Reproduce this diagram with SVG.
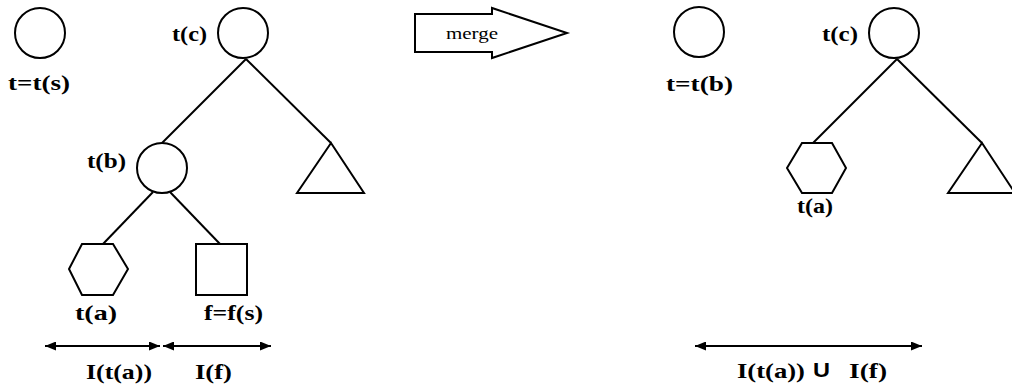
<svg xmlns="http://www.w3.org/2000/svg" width="1012" height="389" viewBox="0 0 1012 389">
<style>
.s{fill:#fff;stroke:#000;stroke-width:2}
.ln{stroke:#000;stroke-width:2;fill:none}
.lb{font-family:'Liberation Serif','Tinos','Times New Roman','Times','DejaVu Serif','Noto Serif',serif;font-weight:700;font-size:22px;fill:#000}
.mg{font-family:'Liberation Serif','Tinos','Times New Roman','Times','DejaVu Serif','Noto Serif',serif;font-size:17px;fill:#000}
.u{font-family:'Liberation Sans','DejaVu Sans',sans-serif;font-weight:700;font-size:20px;fill:#000}
</style>
<defs>
<marker id="ah" viewBox="0 0 11 9" refX="11" refY="4.5" markerWidth="11" markerHeight="9" markerUnits="userSpaceOnUse" orient="auto-start-reverse">
<path d="M0,0 L11,4.5 L0,9 z" fill="#000"/>
</marker>
</defs>
<rect width="1012" height="389" fill="#fff"/>
<g id="connectors">
<line class="ln" x1="246" y1="59" x2="162" y2="143"/>
<line class="ln" x1="246" y1="59" x2="331" y2="143"/>
<line class="ln" x1="153" y1="192" x2="103" y2="244"/>
<line class="ln" x1="170" y1="192" x2="220" y2="244"/>
<line class="ln" x1="897" y1="59" x2="813" y2="143"/>
<line class="ln" x1="897" y1="59" x2="982" y2="143"/>
<line class="ln" x1="45" y1="346" x2="160" y2="346" marker-start="url(#ah)" marker-end="url(#ah)"/>
<line class="ln" x1="163" y1="346" x2="271" y2="346" marker-start="url(#ah)" marker-end="url(#ah)"/>
<line class="ln" x1="695" y1="346" x2="922" y2="346" marker-start="url(#ah)" marker-end="url(#ah)"/>
</g>
<g id="ts">
<circle class="s" cx="40" cy="33" r="25"/>
<text class="lb" x="8" y="90" textLength="62" lengthAdjust="spacingAndGlyphs">t=t(s)</text>
</g>
<g id="tc">
<circle class="s" cx="243" cy="33" r="25"/>
<text class="lb" x="172" y="41" textLength="35" lengthAdjust="spacingAndGlyphs">t(c)</text>
</g>
<g id="tb">
<circle class="s" cx="162" cy="168" r="25"/>
<text class="lb" x="87" y="168" textLength="39" lengthAdjust="spacingAndGlyphs">t(b)</text>
</g>
<g id="tri1">
<polygon class="s" points="331,143 297,193 364,193"/>
</g>
<g id="ta">
<polygon class="s" points="82,244 113,244 128,269 113,295 82,295 69,269"/>
<text class="lb" x="75" y="320" textLength="42" lengthAdjust="spacingAndGlyphs">t(a)</text>
</g>
<g id="f">
<rect class="s" x="196" y="244" width="51" height="51"/>
<text class="lb" x="204" y="320" textLength="59" lengthAdjust="spacingAndGlyphs">f=f(s)</text>
</g>
<g id="intervals1">
<text class="lb" x="86" y="379" textLength="66" lengthAdjust="spacingAndGlyphs">I(t(a))</text>
<text class="lb" x="195" y="379" textLength="37" lengthAdjust="spacingAndGlyphs">I(f)</text>
</g>
<g id="merge">
<polygon class="s" points="415,14 492,14 492,8 567,33 492,58 492,52 415,52"/>
<text class="mg" x="446" y="39" textLength="52" lengthAdjust="spacingAndGlyphs">merge</text>
</g>
<g id="tb2">
<circle class="s" cx="699" cy="32" r="25"/>
<text class="lb" x="666" y="91" textLength="67" lengthAdjust="spacingAndGlyphs">t=t(b)</text>
</g>
<g id="tc2">
<circle class="s" cx="894" cy="33" r="25"/>
<text class="lb" x="822" y="41" textLength="36" lengthAdjust="spacingAndGlyphs">t(c)</text>
</g>
<g id="ta2">
<polygon class="s" points="802,143 832,143 846,168 832,193 802,193 787,168"/>
<text class="lb" x="797" y="213" textLength="36" lengthAdjust="spacingAndGlyphs">t(a)</text>
</g>
<g id="tri2">
<polygon class="s" points="982,143 948,193 1015,193"/>
</g>
<g id="interval2">
<text class="lb" x="737" y="378" textLength="68" lengthAdjust="spacingAndGlyphs">I(t(a))</text>
<text class="u" x="813" y="377" textLength="17" lengthAdjust="spacingAndGlyphs">U</text>
<text class="lb" x="849" y="378" textLength="38" lengthAdjust="spacingAndGlyphs">I(f)</text>
</g>
</svg>
